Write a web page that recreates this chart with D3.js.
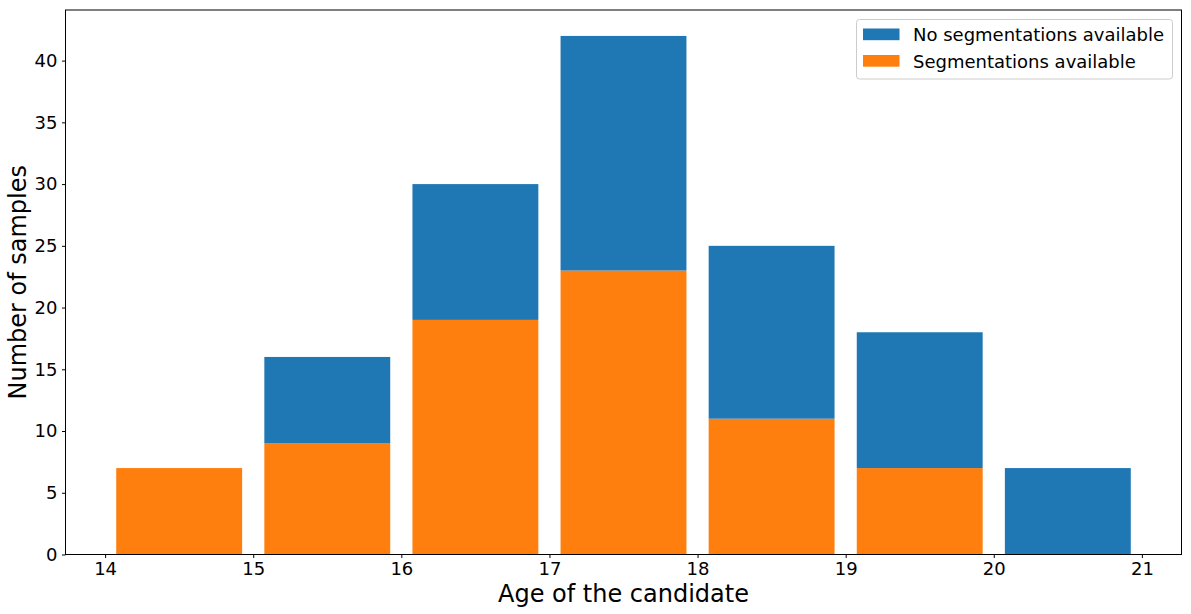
<!DOCTYPE html>
<html>
<head>
<meta charset="utf-8">
<script src="https://cdn.jsdelivr.net/npm/d3@7"></script>
<style>
  body { margin: 0; background: #fff; }
  svg text { font-family: "DejaVu Sans", sans-serif; fill: #000; }
</style>
</head>
<body>
<svg id="chart" width="1191" height="614"></svg>
<script>
// ages (bin starts), each bin is one year wide
var ages = [14, 15, 16, 17, 18, 19, 20];
var withSeg = [7, 9, 19, 23, 11, 7, 0];
var withoutSeg = [0, 7, 11, 19, 14, 11, 7];
var xTicks = [14, 15, 16, 17, 18, 19, 20, 21];
var yTicks = [0, 5, 10, 15, 20, 25, 30, 35, 40];
var seriesNames = ["No segmentations available", "Segmentations available"];

var BLUE = "#1f77b4", ORANGE = "#ff7f0e";

var LEFT = 65.5, RIGHT = 1181.5, TOP = 10, BOTTOM = 554.5;
var rwidth = 0.85;

var svg = d3.select("#chart");

var x = d3.scaleLinear().domain([13.7325, 21.2675]).range([LEFT, RIGHT]);
var y = d3.scaleLinear().domain([0, 44.1]).range([BOTTOM, TOP]);

var barX = function(d, i) { return x(ages[i] + 0.5 - rwidth / 2); };
var barW = x(rwidth) - x(0);

// orange (bottom)
svg.append("g").selectAll("rect")
    .data(withSeg)
    .enter().append("rect")
    .attr("x", barX)
    .attr("width", barW)
    .attr("y", function(d) { return y(d); })
    .attr("height", function(d) { return y(0) - y(d); })
    .attr("fill", ORANGE);

// blue stacked on top
svg.append("g").selectAll("rect")
    .data(withoutSeg)
    .enter().append("rect")
    .attr("x", barX)
    .attr("width", barW)
    .attr("y", function(d, i) { return y(d + withSeg[i]); })
    .attr("height", function(d, i) { return y(withSeg[i]) - y(d + withSeg[i]); })
    .attr("fill", BLUE);

// axes
var xAxis = svg.append("g")
    .attr("transform", "translate(0," + BOTTOM + ")")
    .call(d3.axisBottom(x).tickValues(xTicks).tickSize(3.5).tickPadding(4.5).tickFormat(d3.format("d")));
var yAxis = svg.append("g")
    .attr("transform", "translate(" + LEFT + ",0)")
    .call(d3.axisLeft(y).tickValues(yTicks).tickSize(3.5).tickPadding(4.5).tickFormat(d3.format("d")));

[xAxis, yAxis].forEach(function(a) {
    a.select(".domain").remove();
    a.selectAll("line").attr("stroke", "#000").attr("stroke-width", 1);
    a.selectAll("text").attr("font-size", "18px").attr("font-family", "DejaVu Sans").attr("fill", "#000");
});

// frame
svg.append("rect")
    .attr("x", LEFT).attr("y", TOP)
    .attr("width", RIGHT - LEFT).attr("height", BOTTOM - TOP)
    .attr("fill", "none").attr("stroke", "#000").attr("stroke-width", 1);

// axis titles
svg.append("text")
    .attr("x", (LEFT + RIGHT) / 2).attr("y", 602)
    .attr("text-anchor", "middle")
    .attr("font-size", "24px")
    .text("Age of the candidate");

svg.append("text")
    .attr("transform", "translate(26," + (TOP + BOTTOM) / 2 + ") rotate(-90)")
    .attr("text-anchor", "middle")
    .attr("font-size", "24px")
    .text("Number of samples");

// legend
var legend = svg.append("g");
legend.append("rect")
    .attr("x", 856.5).attr("y", 19.5).attr("width", 316).attr("height", 59.5)
    .attr("rx", 3).attr("fill", "#fff").attr("fill-opacity", 0.8)
    .attr("stroke", "#ccc").attr("stroke-width", 1);

var legendColors = [BLUE, ORANGE];
seriesNames.forEach(function(name, i) {
    legend.append("rect")
        .attr("x", 863).attr("y", 28.5 + i * 26.5)
        .attr("width", 36.5).attr("height", 11.7)
        .attr("fill", legendColors[i]);
    legend.append("text")
        .attr("x", 913).attr("y", 41 + i * 26.5)
        .attr("font-size", "18px")
        .text(name);
});
</script>
</body>
</html>
